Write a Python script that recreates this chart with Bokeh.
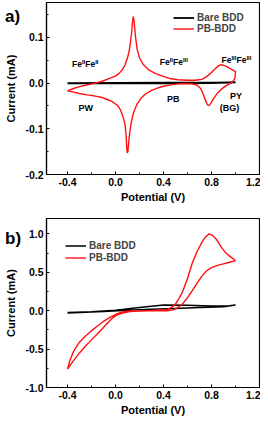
from bokeh.plotting import figure
from bokeh.layouts import column
from bokeh.models import FixedTicker, Label, Legend, LegendItem, Range1d, Div
from bokeh.embed import file_html
from bokeh.resources import INLINE

# ---------------- data ----------------
x_ticks = [-0.4, 0.0, 0.4, 0.8, 1.2]
x_tick_labels = ["-0.4", "0.0", "0.4", "0.8", "1.2"]
x_minor = [-0.2, 0.2, 0.6, 1.0]

a_y_ticks = [-0.2, -0.1, 0.0, 0.1]
a_y_tick_labels = ["-0.2", "-0.1", "0.0", "0.1"]
a_y_minor = [-0.15, -0.05, 0.05, 0.15]

b_y_ticks = [-1.0, -0.5, 0.0, 0.5, 1.0]
b_y_tick_labels = ["-1.0", "-0.5", "0.0", "0.5", "1.0"]
b_y_minor = [-0.75, -0.25, 0.25, 0.75]

# panel a, PB-BDD (forward then reverse sweep)
a_pb_v = [-0.40, -0.35, -0.30, -0.25, -0.20, -0.15, -0.10, -0.05, 0.00, 0.03, 0.06, 0.08, 0.10,
          0.115, 0.125, 0.135, 0.142, 0.148, 0.155, 0.165, 0.18, 0.20, 0.23, 0.28, 0.33, 0.38,
          0.45, 0.52, 0.60, 0.66, 0.72, 0.76, 0.80, 0.83, 0.86, 0.88, 0.91, 0.94, 0.97, 1.00,
          0.995, 0.97, 0.94, 0.91, 0.88, 0.85, 0.82, 0.80, 0.785, 0.775, 0.765, 0.75, 0.73, 0.71,
          0.68, 0.64, 0.58, 0.52, 0.46, 0.40, 0.35, 0.30, 0.25, 0.21, 0.18, 0.16, 0.145, 0.13,
          0.118, 0.109, 0.103, 0.098, 0.093, 0.088, 0.08, 0.07, 0.06, 0.04, 0.02, 0.0, -0.03,
          -0.07, -0.12, -0.18, -0.24, -0.30, -0.35, -0.40]
a_pb_i = [-0.017, -0.012, -0.008, -0.005, -0.002, 0.001, 0.005, 0.010, 0.015, 0.021, 0.030, 0.040, 0.055,
          0.071, 0.090, 0.112, 0.135, 0.145, 0.135, 0.105, 0.074, 0.055, 0.041, 0.028, 0.021, 0.016,
          0.010, 0.007, 0.006, 0.006, 0.008, 0.014, 0.023, 0.031, 0.038, 0.040, 0.038, 0.034, 0.029, 0.025,
          0.010, 0.001, -0.003, -0.008, -0.014, -0.022, -0.033, -0.042, -0.048, -0.049, -0.047, -0.038, -0.024, -0.012,
          -0.005, -0.002, -0.001, -0.002, -0.004, -0.007, -0.011, -0.016, -0.024, -0.034, -0.046, -0.058, -0.070, -0.088,
          -0.110, -0.132, -0.150, -0.153, -0.140, -0.112, -0.092, -0.080, -0.072, -0.058, -0.050, -0.046, -0.040,
          -0.036, -0.031, -0.028, -0.026, -0.023, -0.020, -0.017]

# panel a, bare BDD
a_bare_v = [-0.4, 0.0, 0.4, 0.8, 1.0, 0.8, 0.4, 0.0, -0.4]
a_bare_i = [-0.0005, 0.0005, 0.001, 0.001, 0.0015, 0.0, -0.0005, -0.001, -0.0005]

# panel b, PB-BDD
b_pb_v = [-0.40, -0.38, -0.35, -0.30, -0.25, -0.20, -0.15, -0.10, -0.05, 0.00, 0.05, 0.10, 0.20, 0.30,
          0.38, 0.42, 0.44, 0.47, 0.50, 0.53, 0.56, 0.60, 0.64, 0.68, 0.72, 0.75, 0.78, 0.81, 0.84,
          0.88, 0.92, 0.96, 1.00,
          0.95, 0.90, 0.85, 0.80, 0.76, 0.72, 0.68, 0.64, 0.60, 0.56, 0.52, 0.48, 0.44, 0.36, 0.28,
          0.20, 0.12, 0.06, 0.02, -0.02, -0.06, -0.10, -0.15, -0.20, -0.25, -0.30, -0.35, -0.40]
b_pb_i = [-0.76, -0.65, -0.53, -0.41, -0.33, -0.26, -0.20, -0.14, -0.09, -0.05, -0.02, -0.006, 0.0, 0.003,
          0.008, 0.015, 0.02, 0.045, 0.085, 0.16, 0.25, 0.42, 0.62, 0.77, 0.89, 0.96, 1.00, 0.98, 0.93,
          0.83, 0.75, 0.70, 0.65,
          0.63, 0.61, 0.59, 0.56, 0.52, 0.45, 0.36, 0.26, 0.17, 0.09, 0.04, 0.01, 0.0, 0.0, -0.002,
          -0.005, -0.012, -0.03, -0.05, -0.09, -0.15, -0.22, -0.30, -0.38, -0.46, -0.55, -0.65, -0.76]

# panel b, bare BDD
b_bare_v = [-0.4, -0.2, 0.0, 0.2, 0.4, 0.6, 0.8, 0.95, 1.0, 0.9, 0.7, 0.5, 0.3, 0.1, -0.1, -0.4]
b_bare_i = [-0.025, -0.015, 0.005, 0.04, 0.075, 0.07, 0.06, 0.065, 0.075, 0.05, 0.04, 0.03, 0.02, 0.005, -0.012, -0.03]

legend_labels = ["Bare BDD", "PB-BDD"]
panel_tags = ["a)", "b)"]

# ---------------- style ----------------
FONT = "Liberation Sans"
RED = "#ff1010"
CW = {'F': 611, 'e': 556, 'I': 278}


def style_axes(p, xt, xtl, xm, yt, ytl, ym):
    p.xgrid.visible = False
    p.ygrid.visible = False
    p.outline_line_color = "black"
    p.outline_line_width = 1.2
    p.outline_line_alpha = 1.0
    p.xaxis.ticker = FixedTicker(ticks=xt, minor_ticks=xm)
    p.yaxis.ticker = FixedTicker(ticks=yt, minor_ticks=ym)
    p.xaxis.major_label_overrides = {t: l for t, l in zip(xt, xtl)}
    p.yaxis.major_label_overrides = {t: l for t, l in zip(yt, ytl)}
    p.xaxis.axis_label = "Potential (V)"
    p.yaxis.axis_label = "Current (mA)"
    for ax in (p.xaxis[0], p.yaxis[0]):
        ax.axis_line_color = "black"
        ax.axis_line_width = 1.2
        ax.major_tick_in = 3
        ax.major_tick_out = 0
        ax.minor_tick_in = 2
        ax.minor_tick_out = 0
        ax.major_tick_line_color = "black"
        ax.minor_tick_line_color = "black"
        ax.major_label_text_font = FONT
        ax.major_label_text_font_style = "bold"
        ax.major_label_text_font_size = "10.5px"
        ax.major_label_text_color = "black"
        ax.major_label_standoff = 3
        ax.axis_label_text_font = FONT
        ax.axis_label_text_font_style = "bold"
        ax.axis_label_text_font_size = "11px"
        ax.axis_label_text_color = "black"
    p.xaxis.axis_label_standoff = 2
    p.yaxis.axis_label_standoff = 5


def make_fig(height, ystart, yend, top, bottom, yt, ytl, ym):
    p = figure(width=260, height=height, x_range=Range1d(-0.575, 1.2), y_range=Range1d(ystart, yend),
               output_backend="svg", toolbar_location=None,
               min_border_left=46, min_border_right=1, min_border_top=top, min_border_bottom=bottom)
    style_axes(p, x_ticks, x_tick_labels, x_minor, yt, ytl, ym)
    return p


def add_legend(p, rb, rr, loc, spacing):
    leg = Legend(items=[LegendItem(label=legend_labels[0], renderers=[rb]),
                        LegendItem(label=legend_labels[1], renderers=[rr])],
                 location=loc, border_line_color=None, background_fill_alpha=0,
                 padding=0, spacing=spacing, margin=0, label_height=11, glyph_height=11, glyph_width=21,
                 label_standoff=3, label_text_font=FONT, label_text_font_style="bold",
                 label_text_font_size="10px")
    p.add_layout(leg)


def tag_div(text, top):
    return Div(text=text, width=20, height=20,
               styles={"position": "absolute", "left": "0px", "top": f"{top}px",
                       "font-family": FONT, "font-weight": "bold", "font-size": "17px",
                       "line-height": "1", "color": "black", "z-index": "10"})


def note(p, x, y, text):
    p.add_layout(Label(x=x, y=y, text=text, text_align="center", text_baseline="middle",
                       text_font=FONT, text_font_style="bold", text_font_size="9px",
                       text_color="black"))


def fe_note(p, x, y, parts):
    size_n, size_s = 8.5, 6.0
    total = sum(sum(CW[c] for c in t) * (size_s if s else size_n) / 1000 for t, s in parts)
    off = -total / 2
    for t, s in parts:
        size = size_s if s else size_n
        p.add_layout(Label(x=x, y=y, x_offset=off, y_offset=2 if s else 0, text=t,
                           text_align="left", text_baseline="alphabetic", text_font=FONT,
                           text_font_style="bold", text_font_size=f"{size}px", text_color="black"))
        off += sum(CW[c] for c in t) * size / 1000


# ---------------- panel a ----------------
pa = make_fig(214, -0.2, 0.176, 2, 40, a_y_ticks, a_y_tick_labels, a_y_minor)
rb = pa.line(a_bare_v, a_bare_i, line_color="black", line_width=1.8)
rr = pa.line(a_pb_v, a_pb_i, line_color=RED, line_width=1.4)
add_legend(pa, rb, rr, (127, 140), 0)
fe_note(pa, -0.252, 0.0425, [("Fe", False), ("II", True), ("Fe", False), ("II", True)])
fe_note(pa, 0.486, 0.046, [("Fe", False), ("II", True), ("Fe", False), ("III", True)])
fe_note(pa, 1.008, 0.0496, [("Fe", False), ("III", True), ("Fe", False), ("III", True)])
note(pa, -0.248, -0.055, "PW")
note(pa, 0.482, -0.0353, "PB")
note(pa, 1.005, -0.0288, "PY")
note(pa, 0.949, -0.0556, "(BG)")

# ---------------- panel b ----------------
pb = make_fig(204, -1.0, 1.2, 4, 27, b_y_ticks, b_y_tick_labels, b_y_minor)
rb2 = pb.line(b_bare_v, b_bare_i, line_color="black", line_width=1.5)
rr2 = pb.line(b_pb_v, b_pb_i, line_color=RED, line_width=1.4)
add_legend(pb, rb2, rr2, (19, 124), 1)

layout = column(pa, pb, tag_div(panel_tags[0], 3), tag_div(panel_tags[1], 225))
open("out.html", "w").write(file_html(layout, INLINE))
